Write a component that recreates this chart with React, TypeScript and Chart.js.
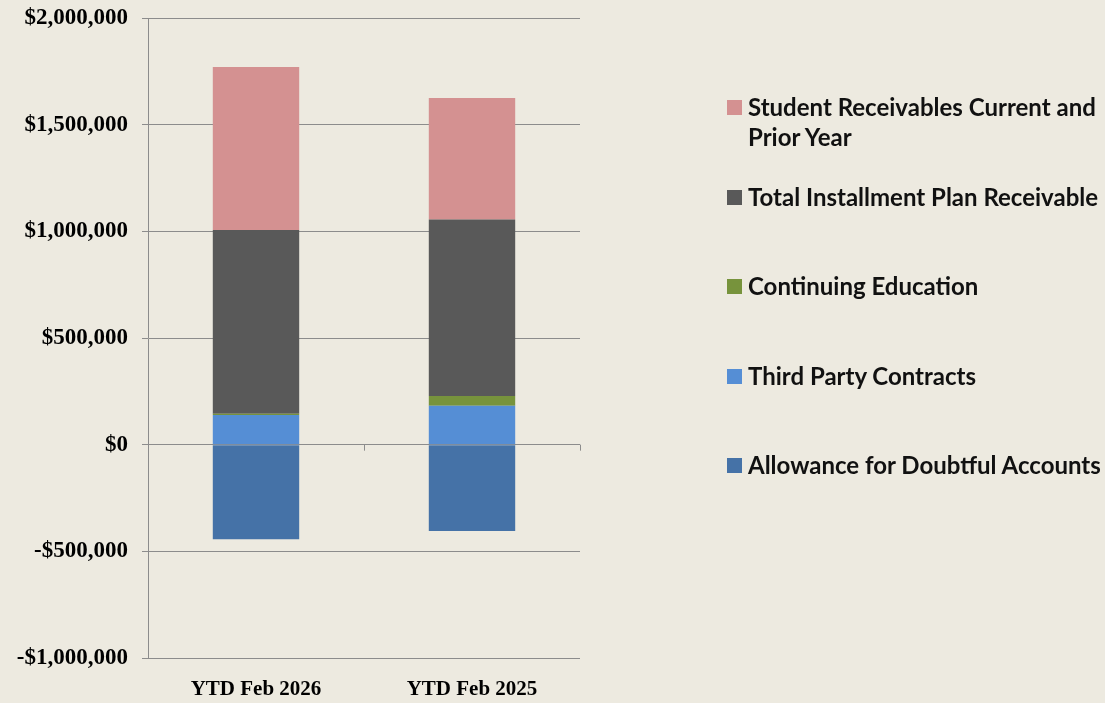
import React, { useEffect, useRef } from "react";
import { Chart, registerables } from "chart.js";

Chart.register(...registerables);

const categories = ["YTD Feb 2026", "YTD Feb 2025"];
const allowance = [-443000, -405000];
const thirdParty = [139000, 183000];
const continuingEd = [6000, 45000];
const installment = [861000, 827000];
const studentRecv = [764000, 570000];

const seriesNames = [
  "Allowance for Doubtful Accounts",
  "Third Party Contracts",
  "Continuing Education",
  "Total Installment Plan Receivable",
  "Student Receivables Current and Prior Year",
];
const seriesColors = ["#4572A7", "#558ED5", "#77933C", "#595959", "#D49191"];
const seriesValues = [allowance, thirdParty, continuingEd, installment, studentRecv];

const yMin = -1000000;
const yMax = 2000000;
const yStep = 500000;

const BG = "#EDEAE0";
const GRID = "#8C8C8C";

function fmt(v: number): string {
  const s = "$" + Math.abs(v).toLocaleString("en-US");
  return v < 0 ? "-" + s : s;
}

const zeroTicks = {
  id: "zeroTicks",
  beforeDatasetsDraw(chart: any) {
    const x = chart.scales.x;
    const y = chart.scales.y;
    const ctx = chart.ctx;
    const y0 = y.getPixelForValue(0);
    ctx.save();
    ctx.strokeStyle = GRID;
    ctx.lineWidth = 1;
    const n = categories.length;
    for (let i = 0; i < n; i++) {
      const a = x.getPixelForValue(i);
      const b = i + 1 < n ? x.getPixelForValue(i + 1) : a + (a - x.getPixelForValue(i - 1));
      const xb = Math.round((a + b) / 2) + 0.5;
      ctx.beginPath();
      ctx.moveTo(xb, y0);
      ctx.lineTo(xb, y0 + 6);
      ctx.stroke();
    }
    ctx.restore();
  },
};

export default function App() {
  const ref = useRef<HTMLCanvasElement | null>(null);

  useEffect(() => {
    if (!ref.current) return;
    const chart = new Chart(ref.current, {
      type: "bar",
      data: {
        labels: categories,
        datasets: seriesValues.map((vals, i) => ({
          label: seriesNames[i],
          data: vals,
          backgroundColor: seriesColors[i],
          borderWidth: 0,
          barPercentage: 0.4,
          categoryPercentage: 1,
        })),
      },
      options: {
        animation: false,
        responsive: false,
        maintainAspectRatio: false,
        layout: { padding: { top: 18, right: 525, left: 0, bottom: 0 } },
        plugins: { legend: { display: false }, tooltip: { enabled: false } },
        scales: {
          x: {
            stacked: true,
            grid: { display: false, drawTicks: false, tickLength: 0 },
            border: { display: false },
            ticks: {
              color: "#000",
              padding: 19,
              font: { family: "'Liberation Serif', 'Times New Roman', serif", size: 21, weight: "bold" },
            },
            afterFit: (s: any) => {
              s.height = 45;
            },
          },
          y: {
            stacked: true,
            min: yMin,
            max: yMax,
            ticks: {
              stepSize: yStep,
              color: "#000",
              padding: 14,
              font: { family: "'Liberation Serif', 'Times New Roman', serif", size: 23, weight: "bold" },
              callback: (v: any) => fmt(Number(v)),
            },
            grid: { color: GRID, lineWidth: 1, tickLength: 6 },
            border: { display: true, color: GRID, width: 1 },
            afterFit: (s: any) => {
              s.width = 148;
              s.paddingTop = 0;
              s.paddingBottom = 0;
            },
          },
        },
      },
      plugins: [zeroTicks],
    });
    return () => chart.destroy();
  }, []);

  const legendOrder = [4, 3, 2, 1, 0];

  return (
    <div
      style={{
        position: "fixed",
        left: 0,
        top: 0,
        width: 1105,
        height: 703,
        background: BG,
        overflow: "hidden",
      }}
    >
      <canvas ref={ref} width={1105} height={703} style={{ position: "absolute", left: 0, top: 0 }} />
      {legendOrder.map((si, i) => (
        <div
          key={si}
          style={{
            position: "absolute",
            left: 727,
            top: 92 + i * 89.5,
            display: "flex",
            alignItems: "flex-start",
            fontFamily: "Lato, 'Noto Sans', sans-serif",
            fontWeight: 700,
            fontSize: 24,
            lineHeight: "30px",
            color: "#111",
          }}
        >
          <div style={{ width: 15, height: 15, marginTop: 8, background: seriesColors[si], flex: "none" }} />
          <div style={{ marginLeft: 6, width: 372 }}>{seriesNames[si]}</div>
        </div>
      ))}
    </div>
  );
}
